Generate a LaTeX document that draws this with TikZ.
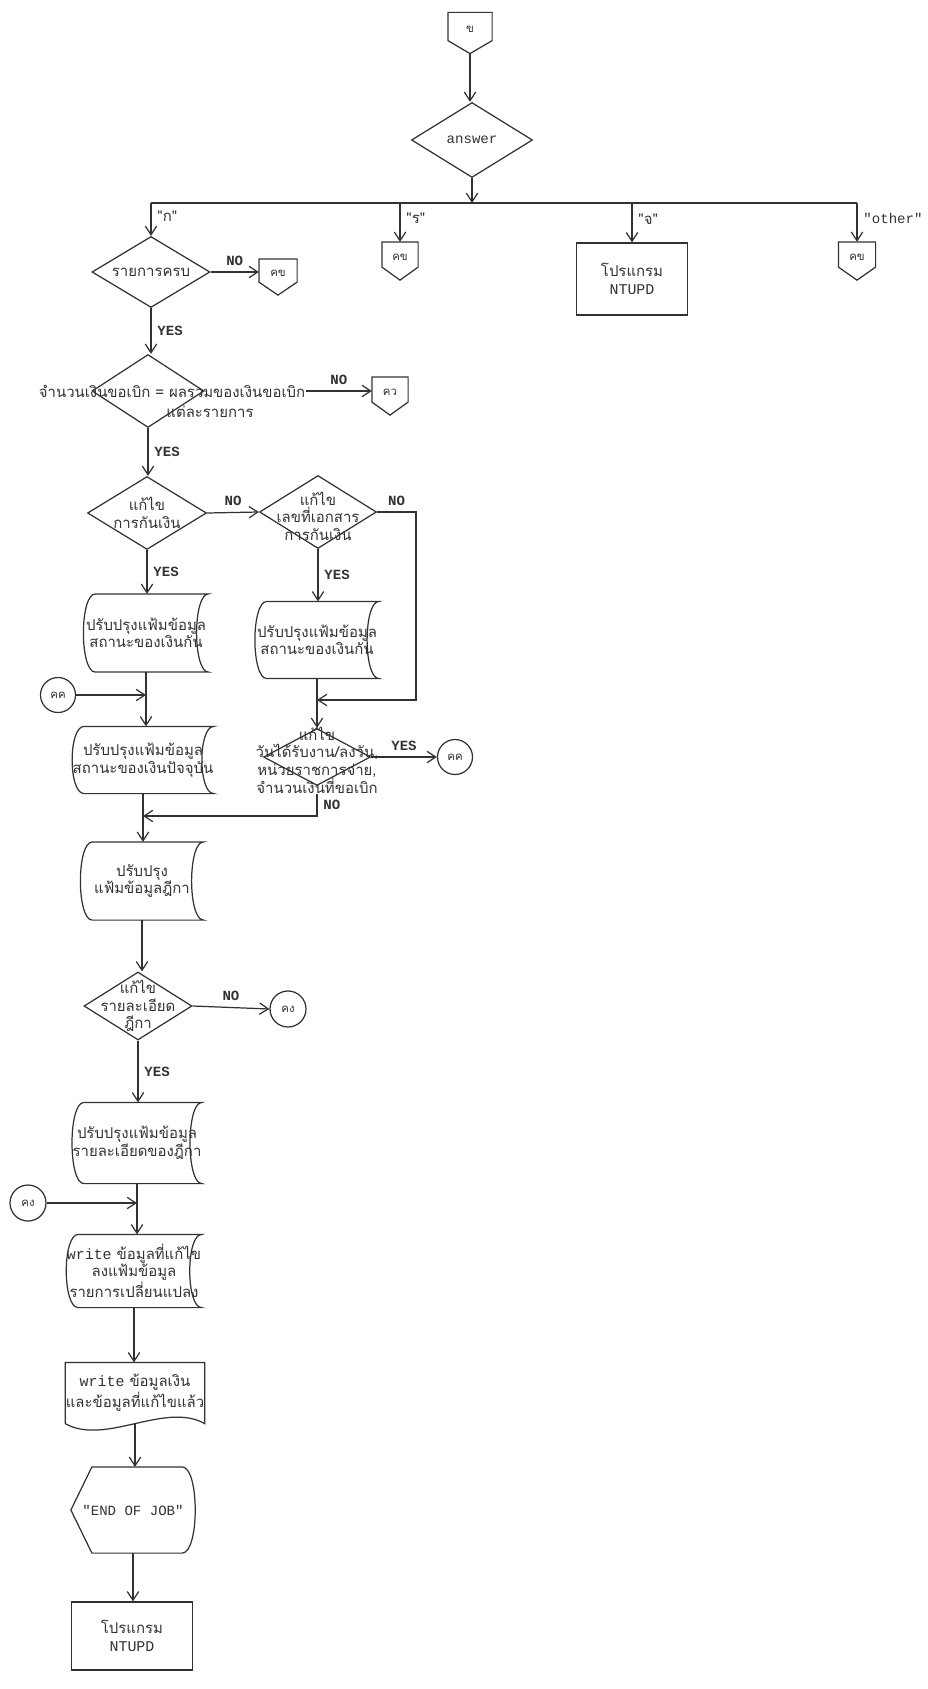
\documentclass[tikz,border=0pt]{standalone}
\usepackage{fontspec}
\setmonofont{Liberation Mono}
\newfontfamily\thaifont[Script=Thai]{Loma}
\usetikzlibrary{shapes.geometric, arrows.meta, calc}
\definecolor{ink}{RGB}{50,50,50}

\tikzset{
  decision/.style 2 args={diamond, draw, inner sep=0pt, minimum width=#1, minimum height=#2},
  dtext/.style={align=center, inner sep=0pt},
  process/.style 2 args={rectangle, draw, align=center, minimum width=#1, minimum height=#2},
  conn/.style={circle, draw, inner sep=0pt, minimum size=#1, font=\fontsize{6.5}{8}\selectfont\thaifont},
  offpage/.style 2 args={inner sep=0pt, minimum width=#1, minimum height=#2,
    font=\fontsize{6.5}{8}\selectfont\thaifont,
    append after command={\pgfextra{
      \draw (\tikzlastnode.north west) -- (\tikzlastnode.north east)
        -- ([yshift=2.6mm]\tikzlastnode.south east) -- (\tikzlastnode.south)
        -- ([yshift=2.6mm]\tikzlastnode.south west) -- cycle;}}},
  storage/.style 2 args={align=center, inner sep=0pt, minimum width=#1, minimum height=#2,
    append after command={\pgfextra{
      \draw ([xshift=2.4mm]\tikzlastnode.north west) -- (\tikzlastnode.north east)
        .. controls ([xshift=-3.2mm]\tikzlastnode.north east) and ([xshift=-3.2mm]\tikzlastnode.south east)
        .. (\tikzlastnode.south east)
        -- ([xshift=2.4mm]\tikzlastnode.south west)
        .. controls ([xshift=-0.8mm]\tikzlastnode.south west) and ([xshift=-0.8mm]\tikzlastnode.north west)
        .. ([xshift=2.4mm]\tikzlastnode.north west);}}},
  docu/.style 2 args={align=center, inner sep=0pt, minimum width=#1, minimum height=#2,
    append after command={\pgfextra{
      \draw (\tikzlastnode.south west) -- (\tikzlastnode.north west) -- (\tikzlastnode.north east)
        -- (\tikzlastnode.south east)
        .. controls ([xshift=-8mm,yshift=4.5mm]\tikzlastnode.south east)
        and ([xshift=8mm,yshift=-4.5mm]\tikzlastnode.south west) .. (\tikzlastnode.south west);}}},
  display/.style 2 args={align=center, inner sep=0pt, minimum width=#1, minimum height=#2,
    append after command={\pgfextra{
      \draw (\tikzlastnode.west) -- ([xshift=4.2mm]\tikzlastnode.north west)
        -- ([xshift=-2.6mm]\tikzlastnode.north east)
        .. controls ([xshift=0.9mm]\tikzlastnode.north east) and ([xshift=0.9mm]\tikzlastnode.south east)
        .. ([xshift=-2.6mm]\tikzlastnode.south east)
        -- ([xshift=4.2mm]\tikzlastnode.south west) -- cycle;}}},
  yn/.style={font=\fontsize{8}{9}\selectfont\ttfamily\bfseries},
  tt/.style={font=\fontsize{8}{9}\selectfont\ttfamily}
}

\begin{document}
\begin{tikzpicture}[x=0.02cm, y=-0.02cm, color=ink, line width=0.7pt,
    font=\fontsize{8.5}{10}\selectfont\thaifont, >={Straight Barb[length=5pt,width=6.5pt]}]
   \useasboundingbox (0,0) rectangle (928,1689);

   \node[offpage={0.86cm}{0.8cm}] (con0) at (470,33) {\raisebox{1.3mm}{ข}};
   \node[decision={2.42cm}{1.5cm}, label={[tt]center:answer}] (ans) at (472,140) {};

   \node[decision={2.36cm}{1.42cm}, label={[dtext]center:{รายการครบ}}] (d1) at (151,272) {};
   \node[offpage={0.74cm}{0.7cm}] (c1) at (278,277) {\raisebox{1.3mm}{คข}};
   \node[offpage={0.7cm}{0.74cm}] (c2) at (400,261) {\raisebox{1.3mm}{คข}};
   \node[process={2.22cm}{1.44cm}] (p1) at (632,279) {โปรแกรม\\{\ttfamily NTUPD}};
   \node[offpage={0.72cm}{0.74cm}] (c3) at (857,261) {\raisebox{1.3mm}{คข}};

   \node[decision={2.24cm}{1.46cm},
      label={[dtext, name=d2t, xshift=4.8mm]center:{จำนวนเงินขอเบิก = ผลรวมของเงินขอเบิก}},
      label={[dtext, xshift=12.4mm, yshift=-4.2mm]center:{แต่ละรายการ}}] (d2) at (148,391) {};
   \node[offpage={0.7cm}{0.74cm}] (c4) at (390,396) {\raisebox{1.3mm}{คว}};

   \node[decision={2.38cm}{1.46cm}, label={[dtext]center:{แก้ไข\\การกันเงิน}}] (d3) at (147,513) {};
   \node[decision={2.34cm}{1.46cm}, label={[dtext, yshift=-0.8mm]center:{แก้ไข\\เลขที่เอกสาร\\การกันเงิน}}] (d4) at (318,512) {};
   \coordinate (r1) at (416,700);

   \node[storage={2.48cm}{1.54cm}] (f1) at (146,633) {ปรับปรุงแฟ้มข้อมูล\\สถานะของเงินกัน};
   \node[storage={2.46cm}{1.52cm}] (f2) at (317,640) {ปรับปรุงแฟ้มข้อมูล\\สถานะของเงินกัน};
   \node[conn=0.7cm] (k1) at (58,695) {คค};

   \node[decision={2.14cm}{1.14cm},
      label={[dtext, name=d5t, yshift=-0.6mm]center:{แก้ไข\\วันได้รับงาน/ลงวัน,\\หน่วยราชการจ่าย,\\จำนวนเงินที่ขอเบิก}}] (d5) at (317,757) {};
   \node[conn=0.7cm] (k2) at (455,757) {คค};

   \node[storage={2.34cm}{1.32cm}] (f3) at (143,760) {ปรับปรุงแฟ้มข้อมูล\\สถานะของเงินปัจจุบัน};
   \coordinate (m1) at (143,816);
   \node[storage={2.44cm}{1.54cm}] (f4) at (142,881) {ปรับปรุง\\แฟ้มข้อมูลฎีกา};

   \node[decision={2.16cm}{1.36cm}, label={[dtext]center:{แก้ไข\\รายละเอียด\\ฎีกา}}] (d6) at (138,1006) {};
   \node[conn=0.72cm] (k3) at (288,1009) {คง};

   \node[storage={2.4cm}{1.6cm}] (f5) at (137,1143) {ปรับปรุงแฟ้มข้อมูล\\รายละเอียดของฎีกา};
   \node[conn=0.72cm] (k4) at (28,1203) {คง};
   \node[storage={2.46cm}{1.44cm}] (f6) at (134,1271) {{\ttfamily write} ข้อมูลที่แก้ไข\\ลงแฟ้มข้อมูล\\รายการเปลี่ยนแปลง};
   \node[docu={2.4cm}{1.2cm}] (doc1) at (135,1393) {{\ttfamily write} ข้อมูลเงิน\\และข้อมูลที่แก้ไขแล้ว};
   \node[display={2.46cm}{1.7cm}, tt] (disp1) at (133,1510) {"END OF JOB"};
   \node[process={2.42cm}{1.36cm}] (p2) at (132,1636) {โปรแกรม\\{\ttfamily NTUPD}};

   \coordinate (busL) at (151,203);
   \coordinate (busR) at (857,203);

   \draw[->] (con0.south) -- (con0.south |- ans.north);
   \draw[->] (ans.south) -- (ans.south |- busL);
   \draw (busL) -- (busR);
   \draw[->] (busL) -- (d1.north) node[pos=.4, right] {"ก"};
   \draw[->] (c2.north |- busL) -- (c2.north) node[pos=.4, right] {"ร"};
   \draw[->] (p1.north |- busL) -- (p1.north) node[pos=.4, right] {"จ"};
   \draw[->] (busR) -- (c3.north) node[pos=.4, right, tt] {"other"};

   \draw[->] (d1.east) -- (d1.east -| c1.west) node[midway, above, yn] {NO};
   \draw[->] (d1.south) -- (d1.south |- d2.north) node[midway, right, yn] {YES};
   \draw[->] (d2t.east |- d2.east) -- (d2.east -| c4.west) node[midway, above, yn] {NO};
   \draw[->] (d2.south) -- (d2.south |- d3.north) node[midway, right, yn] {YES};
   \draw[->] (d3.east) -- (d4.west) node[midway, above, yn] {NO};
   \draw[->] (d4.east) -| (r1) node[pos=.25, above, yn] {NO} -- (r1 -| d5.north);
   \draw[->] (d3.south) -- (d3.south |- f1.north) node[midway, right, yn] {YES};
   \draw[->] (d4.south) -- (d4.south |- f2.north) node[midway, right, yn] {YES};

   \draw[->] (f1.south) -- (f1.south |- f3.north);
   \draw[->] (k1.east) -- (k1.east -| f1.south);
   \draw[->] (f2.south) -- (f2.south |- d5.north);
   \draw[->] (d5.east) -- (k2.west) node[midway, above, yn] {YES};
   \draw[->] (d5t.south) |- (m1) node[pos=.25, right, yn] {NO};

   \draw[->] (f3.south) -- (f3.south |- f4.north);
   \draw[->] (f4.south) -- (f4.south |- d6.north);
   \draw[->] (d6.east) -- (k3.west) node[midway, above, yn] {NO};
   \draw[->] (d6.south) -- (d6.south |- f5.north) node[midway, right, yn] {YES};
   \draw[->] (f5.south) -- (f5.south |- f6.north);
   \draw[->] (k4.east) -- (k4.east -| f5.south);
   \draw[->] (f6.south) -- (f6.south |- doc1.north);
   \draw[->] (doc1.south) -- (doc1.south |- disp1.north);
   \draw[->] (disp1.south) -- (disp1.south |- p2.north);
\end{tikzpicture}
\end{document}
